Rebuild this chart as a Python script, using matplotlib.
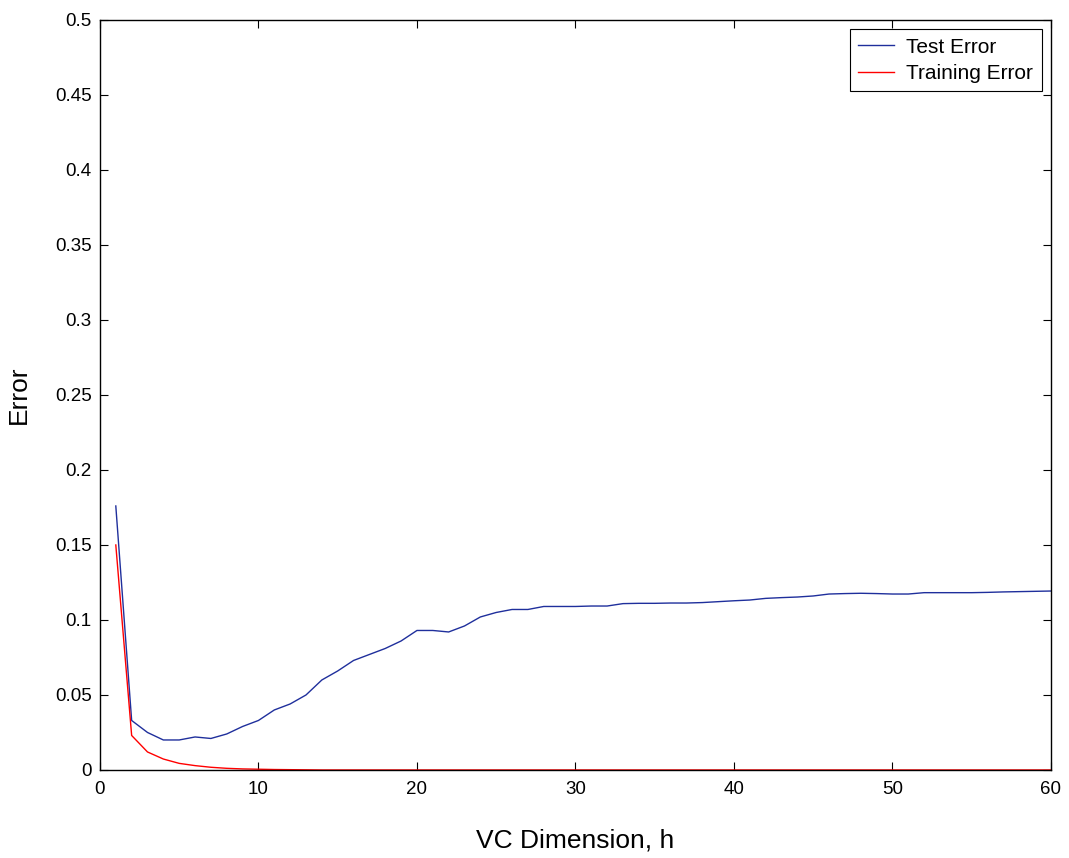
import matplotlib
matplotlib.use('Agg')
import matplotlib.pyplot as plt

plt.rcParams['font.family'] = ['Liberation Sans', 'DejaVu Sans']

# ---- data ----
vc_dim = list(range(1, 61))
test_error = [0.176, 0.033, 0.025, 0.020, 0.020, 0.022, 0.021, 0.024, 0.029, 0.033,
              0.040, 0.044, 0.050, 0.060, 0.066, 0.073, 0.077, 0.081, 0.086, 0.093,
              0.093, 0.092, 0.096, 0.102, 0.105, 0.107, 0.107, 0.109, 0.109, 0.109,
              0.1093, 0.1093, 0.1109, 0.1111, 0.1111, 0.1113, 0.1113, 0.1116, 0.1122, 0.1128,
              0.1133, 0.1144, 0.1149, 0.1153, 0.1160, 0.1173, 0.1176, 0.1178, 0.1176, 0.1173,
              0.1173, 0.1182, 0.1182, 0.1182, 0.1182, 0.1184, 0.1187, 0.1189, 0.1191, 0.1193]
train_error = [0.150, 0.023, 0.012, 0.0073, 0.0044, 0.0029, 0.0018, 0.0011, 0.0007, 0.0005,
               0.0003, 0.0002, 0.0001] + [0.0] * 47

fig = plt.figure(figsize=(10.69, 8.58), dpi=100)
ax = fig.add_axes([0.0935, 0.1026, 0.8896, 0.8741])

ax.plot(vc_dim, test_error, color='#1f2f9c', linewidth=1.0, label='Test Error')
ax.plot(vc_dim, train_error, color='red', linewidth=1.0, label='Training Error')

ax.set_xlim(0, 60)
ax.set_ylim(0, 0.5)
ax.set_xticks([0, 10, 20, 30, 40, 50, 60])
ax.set_yticks([0, 0.05, 0.1, 0.15, 0.2, 0.25, 0.3, 0.35, 0.4, 0.45, 0.5])
ax.set_yticklabels(['0', '0.05', '0.1', '0.15', '0.2', '0.25', '0.3', '0.35', '0.4', '0.45', '0.5'])
ax.tick_params(direction='in', top=True, right=True, labelsize=13.5, length=6, width=0.8)
ax.tick_params(axis='x', pad=8)
ax.tick_params(axis='y', pad=6)
for s in ax.spines.values():
    s.set_linewidth(1.0)

ax.set_xlabel('VC Dimension, h', fontsize=19, labelpad=22)
ax.set_ylabel('Error', fontsize=19, labelpad=17)

leg = ax.legend(loc='upper right', fontsize=15, fancybox=False, framealpha=1,
                edgecolor='black', borderaxespad=0.45, handlelength=1.7,
                handletextpad=0.6, borderpad=0.4, labelspacing=0.35)
leg.get_frame().set_linewidth(0.8)

fig.savefig('out.png', dpi=100)
